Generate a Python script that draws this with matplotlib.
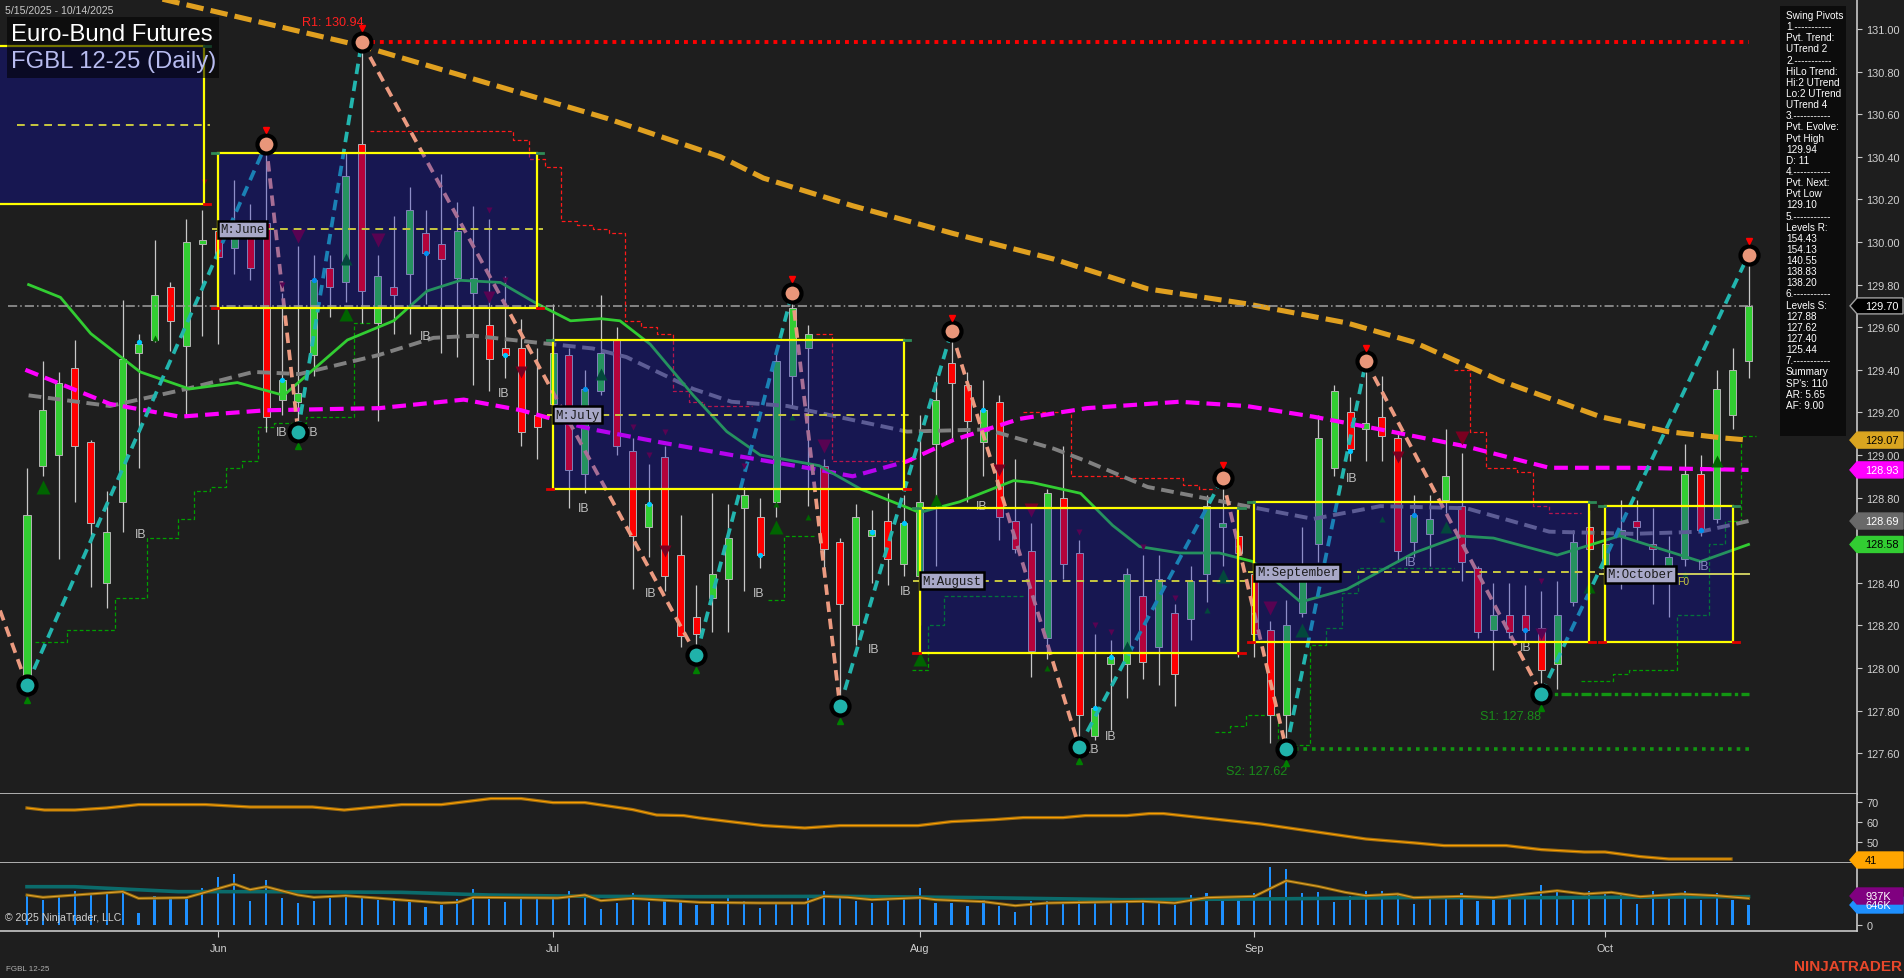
import matplotlib
matplotlib.use('Agg')
import matplotlib.pyplot as plt
import numpy as np
from matplotlib.patches import Rectangle, Polygon
from matplotlib.transforms import IdentityTransform

plt.rcParams['font.family'] = ['Liberation Sans', 'DejaVu Sans']

W, H = 1904, 979
BG = '#1e1e1e'

# ---------------- data ----------------
opens = [127.96, 128.95, 129.00, 129.41, 129.06, 128.40, 128.78, 129.48, 129.54, 129.79,
         129.51, 129.99, 130.05, 129.97, 130.09, 130.09, 129.26, 129.25, 129.47, 129.88,
         129.81, 130.46, 129.62, 129.79, 129.85, 130.04, 129.99, 129.83, 129.76, 129.61,
         129.50, 129.50, 129.19, 129.24, 129.47, 128.91, 129.30, 129.54, 129.02, 128.66,
         128.99, 128.53, 128.24, 128.33, 128.42, 128.75, 128.71, 128.78, 129.37, 129.50,
         128.95, 128.59, 128.20, 128.62, 128.69, 128.49, 128.43, 129.05, 129.43, 129.33,
         129.06, 129.25, 128.69, 128.55, 128.14, 128.80, 128.54, 127.68, 128.02, 128.02,
         128.34, 128.10, 128.26, 128.23, 128.44, 128.66, 128.62, 128.44, 128.18, 127.78,
         128.26, 128.58, 128.94, 129.20, 129.12, 129.18, 129.08, 128.59, 128.63, 128.79,
         128.76, 128.47, 128.18, 128.25, 128.25, 128.19, 128.02, 128.31, 128.66, 128.47,
         128.62, 128.69, 128.58, 128.47, 128.51, 128.91, 128.70, 129.19, 129.44]
highs = [128.94, 129.44, 129.39, 129.54, 129.07, 128.83, 129.73, 129.57, 130.01, 129.81,
         130.11, 130.15, 130.20, 130.29, 130.18, 130.46, 129.76, 129.98, 129.94, 129.94,
         130.42, 130.94, 129.94, 130.12, 130.26, 130.15, 130.32, 130.19, 130.17, 130.11,
         129.84, 129.64, 129.50, 129.71, 129.50, 129.40, 129.75, 129.60, 129.08, 128.96,
         129.04, 128.72, 128.39, 128.82, 128.77, 128.85, 128.80, 129.50, 129.76, 129.61,
         128.98, 128.61, 128.77, 128.74, 128.82, 128.81, 129.19, 129.37, 129.58, 129.39,
         129.35, 129.28, 128.98, 128.68, 128.84, 129.04, 128.60, 128.16, 128.13, 128.47,
         128.53, 128.53, 128.30, 128.48, 128.81, 128.89, 128.64, 128.46, 128.22, 128.32,
         128.66, 129.19, 129.33, 129.27, 129.44, 129.37, 129.10, 128.81, 128.81, 129.12,
         129.01, 128.48, 128.40, 128.40, 128.39, 128.36, 128.41, 128.65, 128.74, 128.60,
         128.79, 128.79, 128.75, 128.62, 129.05, 129.00, 129.40, 129.50, 129.94]
lows = [127.92, 128.90, 128.51, 128.78, 128.38, 128.28, 128.64, 128.94, 129.53, 129.49,
        129.19, 129.56, 129.52, 129.85, 129.82, 129.11, 129.19, 129.11, 129.37, 129.65,
        129.72, 129.62, 129.16, 129.57, 129.57, 129.71, 129.48, 129.46, 129.33, 129.30,
        129.36, 129.04, 128.98, 129.15, 128.75, 128.82, 129.28, 129.00, 128.37, 128.52,
        128.36, 128.10, 128.06, 128.17, 128.17, 128.36, 128.47, 128.71, 129.23, 128.76,
        128.43, 127.82, 128.11, 128.40, 128.39, 128.43, 128.20, 128.48, 129.07, 128.78,
        128.90, 128.60, 128.54, 127.96, 128.04, 128.42, 127.63, 127.66, 127.71, 127.86,
        127.95, 127.92, 127.82, 128.13, 128.31, 128.48, 128.05, 128.05, 127.65, 127.62,
        128.24, 128.50, 128.90, 128.97, 128.97, 128.97, 128.50, 128.52, 128.48, 128.73,
        128.41, 128.14, 127.99, 128.14, 128.13, 127.88, 127.90, 128.29, 128.55, 128.40,
        128.37, 128.59, 128.30, 128.24, 128.48, 128.62, 128.68, 129.12, 129.36]
closes = [128.72, 129.21, 129.34, 129.04, 128.68, 128.64, 129.45, 129.52, 129.75, 129.63,
          130.00, 130.01, 129.93, 130.05, 129.88, 129.18, 129.35, 129.29, 129.82, 129.79,
          130.31, 129.77, 129.84, 129.75, 130.15, 129.95, 129.92, 130.05, 129.83, 129.45,
          129.47, 129.11, 129.13, 129.48, 128.93, 129.31, 129.48, 129.04, 128.62, 128.77,
          128.43, 128.15, 128.16, 128.44, 128.61, 128.81, 128.53, 129.44, 129.69, 129.57,
          128.56, 128.30, 128.71, 128.65, 128.51, 128.68, 128.78, 129.26, 129.34, 129.16,
          129.21, 128.71, 128.56, 128.08, 128.82, 128.49, 127.78, 127.81, 128.05, 128.44,
          128.03, 128.42, 127.97, 128.41, 128.76, 128.68, 128.54, 128.16, 127.78, 128.20,
          128.43, 129.08, 129.30, 129.03, 129.15, 129.09, 128.55, 128.72, 128.70, 128.90,
          128.50, 128.17, 128.25, 128.17, 128.18, 127.99, 128.25, 128.59, 128.56, 128.58,
          128.65, 128.66, 128.56, 128.52, 128.91, 128.65, 129.31, 129.40, 129.70]

volume_k = [969, 808, 969, 1098, 1023, 1055, 1195, 388, 937, 915,
            840, 1195, 1550, 1647, 775, 1453, 883, 711, 775, 926,
            969, 883, 808, 775, 775, 581, 646, 840, 1163, 883,
            743, 872, 872, 894, 1098, 991, 517, 711, 1034, 743,
            775, 775, 646, 786, 894, 786, 549, 700, 700, 926,
            1098, 969, 775, 711, 775, 840, 1195, 711, 711, 624,
            808, 624, 420, 775, 775, 732, 818, 775, 775, 732,
            840, 711, 646, 969, 1034, 840, 926, 1034, 1873, 1809,
            1034, 1055, 743, 926, 1098, 1098, 969, 668, 872, 894,
            1034, 775, 808, 894, 894, 1281, 1130, 808, 1098, 1034,
            1001, 668, 1098, 969, 1098, 808, 1034, 808, 646]

month_ticks = [12, 33, 56, 77, 99]
month_labels = ['Jun', 'Jul', 'Aug', 'Sep', 'Oct']
price_ticks = [127.60, 127.80, 128.00, 128.20, 128.40, 128.60, 128.80, 129.00, 129.20,
               129.40, 129.60, 129.80, 130.00, 130.20, 130.40, 130.60, 130.80, 131.00]

# moving averages, read as (bar, value) points
orange_ma_x = [8.5, 21, 36.4, 43.5, 46.2, 51.8, 58.1, 64.4, 70.3, 76.5, 82.8, 87, 92.4, 98.7, 102.9, 106.4, 108]
orange_ma_y = [131.14, 130.92, 130.58, 130.40, 130.30, 130.17, 130.04, 129.92, 129.78, 129.71, 129.62,
               129.53, 129.35, 129.18, 129.11, 129.08, 129.07]
magenta_ma_x = [-0.1, 5.2, 9.6, 15, 22.1, 27.4, 31, 33.9, 35.5, 39.7, 44.2, 49.7, 51.8, 55.2, 58.1,
                62.3, 66.5, 72.3, 76.5, 80.7, 84.9, 90.3, 95.5, 100.8, 108]
magenta_ma_y = [129.40, 129.24, 129.18, 129.21, 129.22, 129.26, 129.21, 129.15, 129.12, 129.06, 129.00,
                128.93, 128.90, 128.97, 129.07, 129.17, 129.22, 129.25, 129.23, 129.18, 129.12, 129.04,
                128.94, 128.94, 128.93]
gray_ma_x = [0.1, 5.2, 10, 14.2, 17.1, 22.1, 25.5, 28, 31.7, 35.5, 37.6, 41.8, 44.2, 47.7, 55.2, 60.2,
             64.4, 66.5, 70.3, 74.4, 78.6, 80.7, 84.9, 90.3, 95.5, 100.8, 105, 108]
gray_ma_y = [129.28, 129.23, 129.31, 129.39, 129.38, 129.47, 129.55, 129.56, 129.53, 129.50, 129.46,
             129.31, 129.25, 129.23, 129.11, 129.12, 129.03, 128.97, 128.85, 128.79, 128.73, 128.70,
             128.76, 128.75, 128.64, 128.63, 128.64, 128.69]
green_ma_x = [0.1, 2.1, 4, 7.1, 10.2, 13.2, 16.1, 20.1, 23, 25.1, 27.2, 29.7, 32, 34.1, 36, 37.2, 39.1,
              41.8, 43.9, 46, 49.7, 52.3, 56, 58.5, 61.9, 63.1, 66.1, 68.1, 69.8, 72.3, 74.8, 76.9,
              79.9, 82.8, 87, 89.9, 92, 96, 99.9, 105, 108]
green_ma_y = [129.80, 129.74, 129.57, 129.39, 129.31, 129.34, 129.28, 129.54, 129.63, 129.77, 129.82,
              129.81, 129.71, 129.63, 129.64, 129.63, 129.52, 129.28, 129.11, 129.00, 128.95, 128.84,
              128.73, 128.78, 128.88, 128.87, 128.82, 128.67, 128.57, 128.54, 128.54, 128.50, 128.31,
              128.37, 128.54, 128.62, 128.61, 128.53, 128.62, 128.50, 128.58]

# swing pivot zigzag
zz_x = [-1.69, 0, 15, 17, 21, 42, 48, 51, 58, 66, 75, 79, 84, 95, 108]
zz_y = [128.27, 127.92, 130.46, 129.11, 130.94, 128.06, 129.76, 127.82, 129.58, 127.63,
        128.89, 127.62, 129.44, 127.88, 129.94]
pivot_high_x = [15, 21, 48, 58, 75, 84, 108]
pivot_high_y = [130.46, 130.94, 129.76, 129.58, 128.89, 129.44, 129.94]
pivot_low_x = [0, 17, 42, 51, 66, 79, 95]
pivot_low_y = [127.92, 129.11, 128.06, 127.82, 127.63, 127.62, 127.88]

# trailing stops: first bar, value per bar
green_stop_1 = (1, [128.12, 128.12, 128.18, 128.18, 128.18, 128.33, 128.33, 128.61, 128.61, 128.70,
                    128.83, 128.85, 128.94, 128.97, 129.13, 129.15, 129.15, 129.18, 129.18, 129.18, 129.62])
red_stop_1 = (22, [130.52] * 9 + [130.48, 130.39, 130.35, 130.10, 130.08, 130.06, 130.04, 129.63,
                                   129.60, 129.57, 129.30, 129.25, 129.23, 129.23, 129.23])
green_stop_2 = (47, [128.32, 128.62, 128.62])
red_stop_2 = (50, [129.57, 128.97, 128.97, 128.97, 128.97, 128.97])
green_stop_3 = (56, [127.99, 128.20, 128.34, 128.34, 128.34, 128.34, 128.34])
red_stop_3 = (63, [129.20, 129.20, 129.20, 128.90, 128.90, 128.90, 128.89, 128.89, 128.89, 128.89,
                   128.86, 128.84])
green_stop_4 = (75, [127.70, 127.73, 127.78, 127.78, 127.64, 127.64, 128.11, 128.19, 128.35,
                     128.47, 128.47, 128.47, 128.47, 128.47, 128.47])
red_stop_4 = (90, [129.40, 129.11, 128.94, 128.94, 128.92, 128.76, 128.73, 128.73])
green_stop_5 = (98, [127.94, 127.94, 127.97, 127.99, 127.99, 127.99, 128.25, 128.25, 128.58,
                     128.69, 129.09])

# monthly range boxes
box_names = ['', 'June', 'July', 'August', 'September', 'October']
box_start = [-3, 12, 33, 56, 77, 99]
box_end = [11.1, 32, 55, 76, 98, 107]
box_top = [130.92, 130.42, 129.54, 128.75, 128.78, 128.76]
box_bottom = [130.18, 129.69, 128.84, 128.07, 128.12, 128.12]
box_mid = [130.55, 130.06, 129.19, 128.41, 128.45, 128.44]

ib_x = [7.1, 16, 17.9, 25, 29.9, 34.9, 39.1, 45.9, 53.1, 55.1, 59.9, 66.9, 68.0, 83.1, 86.8, 94, 105.2]
ib_y = [128.63, 129.11, 129.11, 129.56, 129.29, 128.75, 128.35, 128.35, 128.09, 128.36, 128.76,
        127.62, 127.68, 128.89, 128.50, 128.10, 128.48]

tri_dn_x = [11.1, 16, 17, 22, 29, 29, 30, 31, 38, 39, 40, 40, 45, 50, 61, 63, 66, 67, 68, 70, 72, 78, 86, 90, 95, 95]
tri_dn_y = [130.28, 129.80, 130.03, 130.01, 130.15, 129.74, 129.82, 129.39, 129.13, 129.00, 129.11, 128.55,
            128.95, 129.04, 128.93, 128.74, 128.64, 128.20, 128.17, 128.57, 128.33, 128.28, 128.99, 129.08,
            128.41, 128.16]
tri_dn_s = [5, 5, 10, 10, 5, 8, 5, 8, 5, 5, 5, 8, 5, 10, 8, 10, 5, 5, 5, 5, 5, 10, 8, 10, 5, 8]
tri_up_x = [1, 8, 20, 20, 36, 47, 47, 48, 49, 51, 56, 57, 64, 69, 74, 75, 80, 85, 89, 98, 104, 106]
tri_up_y = [128.85, 129.55, 129.66, 129.92, 129.38, 128.66, 128.77, 129.18, 128.71, 127.75, 128.04, 128.79,
            128.00, 128.10, 128.27, 128.43, 128.18, 128.70, 128.66, 128.38, 128.44, 128.97]
tri_up_s = [10, 5, 10, 8, 8, 10, 5, 5, 5, 5, 10, 8, 5, 8, 5, 10, 10, 5, 8, 8, 5, 8]

dot_x = [7, 16, 18, 25, 30, 35, 39, 46, 53, 55, 60, 67, 68, 83, 87, 94, 105]
dot_y = [129.53, 129.35, 129.82, 129.95, 129.47, 129.31, 128.77, 128.53, 128.64, 128.68, 129.21,
         127.81, 128.05, 129.02, 128.72, 128.18, 128.65]

adx_x = [0, 1.1, 3, 5, 7, 11.2, 14, 17.9, 19.9, 23.5, 26, 29.1, 31, 33, 35, 38, 39.5, 41.2, 42.2,
         46.2, 48.8, 51, 55.9, 58, 60.7, 62.5, 65, 66.4, 69, 70.4, 71.3, 77.4, 84, 87.1, 88.9, 92.8,
         95, 97.7, 99, 101.2, 103, 106.9]
adx_y = [67.0, 66.0, 66.0, 67.0, 68.7, 68.7, 67.5, 67.5, 66.0, 68.7, 68.7, 71.7, 71.7, 69.7, 69.7,
         66.2, 63.5, 63.2, 62.0, 58.2, 57.0, 58.2, 58.2, 60.2, 61.2, 62.2, 62.2, 63.2, 63.2, 64.2,
         64.2, 59.0, 51.5, 49.5, 48.2, 48.2, 46.2, 45.0, 45.0, 42.7, 41.5, 41.5]

vol_avg_x = [0, 3, 6, 9.5, 15, 23.5, 29, 35, 42.2, 51, 59.9, 68.7, 77.4, 86.2, 95, 108]
vol_avg_y = [1237, 1237, 1163, 1077, 1077, 1055, 969, 926, 915, 926, 883, 818, 840, 883, 883, 915]
vol_fast_x = [0, 1, 6, 7, 10, 13, 14, 15, 17, 18, 20, 26, 27, 28, 33.3, 35, 36, 38, 42.2, 46, 48.8,
              50, 51.5, 53, 56, 57, 60, 62, 64, 70, 72, 74, 77, 79, 81, 82.7, 84, 86, 87, 90, 92, 95,
              96, 97.7, 99.4, 101.2, 103.8, 106, 108]
vol_fast_y = [969, 894, 1077, 861, 883, 1324, 1141, 1237, 969, 894, 947, 711, 732, 894, 872, 969, 786,
              861, 732, 711, 711, 926, 894, 818, 883, 818, 754, 624, 711, 765, 711, 883, 926, 1431,
              1248, 1055, 947, 1001, 883, 926, 883, 1055, 1109, 1001, 1055, 915, 1001, 947, 861]

info_lines = ['Swing Pivots', '1.-----------', 'Pvt. Trend:', 'UTrend 2', '2.-----------',
              'HiLo Trend:', 'Hi:2 UTrend', 'Lo:2 UTrend', 'UTrend 4', '3.-----------',
              'Pvt. Evolve:', 'Pvt High', '129.94', 'D: 11', '4.-----------', 'Pvt. Next:',
              'Pvt Low', '129.10', '5.-----------', 'Levels R:', '154.43', '154.13', '140.55',
              '138.83', '138.20', '6.-----------', 'Levels S:', '127.88', '127.62', '127.40',
              '125.44', '7.-----------', 'Summary', "SP's: 110", 'AR: 5.65', 'AF: 9.00']

# ---------------- figure ----------------
fig = plt.figure(figsize=(W / 100, H / 100), dpi=100, facecolor=BG)
ax = fig.add_axes([0, (H - 795) / H, 1857 / W, 795 / H])
ax2 = fig.add_axes([0, (H - 864) / H, 1857 / W, 69 / H])
ax3 = fig.add_axes([0, (H - 932) / H, 1857 / W, 68 / H])

x0 = -27 / 15.94
x1 = x0 + 1857 / 15.94
for a in (ax, ax2, ax3):
    a.set_facecolor(BG)
    a.set_xlim(x0, x1)
    for s in ('top', 'left'):
        a.spines[s].set_visible(False)
    for s in ('right', 'bottom'):
        a.spines[s].set_color('#c8c8c8')
        a.spines[s].set_linewidth(1.2)
    a.tick_params(axis='y', left=False, labelleft=False, right=True, labelright=True,
                  length=3.6, width=0.8, color='#c8c8c8', labelcolor='#d0d0d0', labelsize=7.9, pad=3)
    a.tick_params(axis='x', bottom=False, labelbottom=False)

ax.set_ylim(127.4085, 131.1408)
ax.set_yticks(price_ticks)
ax.set_yticklabels([f'{v:.2f}' for v in price_ticks])
ax2.set_ylim(39.5, 74)
ax2.set_yticks([50, 60, 70])
ax3.set_ylim(-194, 2003)
ax3.set_yticks([0])
ax3.set_xticks(month_ticks)
ax3.set_xticklabels(month_labels)
ax3.tick_params(axis='x', bottom=True, labelbottom=True, length=4, width=0.8, color='#c8c8c8',
                labelcolor='#d0d0d0', labelsize=7.8, pad=5)

bars = np.arange(len(closes))
o = np.array(opens); c = np.array(closes)

# trailing stop steps
def draw_stop(stop, color):
    start, vals = stop
    xs, ys = [], []
    for k, v in enumerate(vals):
        xs += [start + k - 0.5, start + k + 0.5]
        ys += [v, v]
    ax.plot(xs, ys, color=color, lw=0.9, ls=(0, (3, 2)), zorder=1.5)

for st in (green_stop_1, green_stop_2, green_stop_3, green_stop_4, green_stop_5):
    draw_stop(st, '#00a000')
for st in (red_stop_1, red_stop_2, red_stop_3, red_stop_4):
    draw_stop(st, '#ff1a1a')

# candles
ax.vlines(bars, lows, highs, color='#c8c8c8', lw=0.9, zorder=2)
body_col = ['#32cd32' if cc >= oo else '#ff0000' for oo, cc in zip(o, c)]
ax.bar(bars, np.maximum(np.abs(c - o), 0.012), bottom=np.minimum(o, c), width=0.44,
       color=body_col, edgecolor='#b4b4b4', linewidth=0.7, zorder=2.1)

# moving averages
ax.plot(gray_ma_x, gray_ma_y, color='#808080', lw=2.8, ls=(0, (3.3, 1.7)), zorder=3)
ax.plot(magenta_ma_x, magenta_ma_y, color='#ff00ff', lw=3.0, ls=(0, (3.3, 1.7)), zorder=3)
ax.plot(green_ma_x, green_ma_y, color='#32cd32', lw=2.0, zorder=3)
ax.plot(orange_ma_x, orange_ma_y, color='#e0a020', lw=3.7, ls=(0, (3.4, 1.4)), zorder=3)

# zigzag
for k in range(len(zz_x) - 1):
    up = zz_y[k + 1] > zz_y[k]
    ax.plot(zz_x[k:k + 2], zz_y[k:k + 2], color='#22b5ae' if up else '#eb9a80',
            lw=2.7, ls=(0, (2.8, 1.8)), zorder=4)

# small markers
for xx, yy, ss in zip(tri_dn_x, tri_dn_y, tri_dn_s):
    ax.plot(xx, yy, marker='v', ms=ss, color='#7a0020', mec='none', zorder=5)
for xx, yy, ss in zip(tri_up_x, tri_up_y, tri_up_s):
    ax.plot(xx, yy, marker='^', ms=ss, color='#006400', mec='none', zorder=5)
ax.plot(dot_x, dot_y, 'o', ms=3.8, color='#00c8ff', mec='none', zorder=5)
for xx, yy in zip(ib_x, ib_y):
    ax.text(xx, yy, 'IB', color='#c0c0c0', fontsize=8.8, ha='center', va='center', zorder=5)

# monthly boxes
for k in range(len(box_start)):
    s, e, t, b, m = box_start[k], box_end[k], box_top[k], box_bottom[k], box_mid[k]
    ax.add_patch(Rectangle((s, b), e - s, t - b, fc='#0a0ac8', alpha=0.3, ec='none', zorder=6))
    ax.add_patch(Rectangle((s, b), e - s, t - b, fill=False, ec='#ffff00', lw=1.6, zorder=8))
    ax.plot([s - 0.4, s], [t, t], color='#2e8b57', lw=2, zorder=8)
    ax.plot([e, e + 0.4], [t, t], color='#2e8b57', lw=2, zorder=8)
    ax.plot([s - 0.4, s], [b, b], color='#e00000', lw=2, zorder=8)
    ax.plot([e, e + 0.4], [b, b], color='#e00000', lw=2, zorder=8)
    if k == len(box_start) - 1:
        ax.plot([s - 0.3, 108], [m, m], color='#cccc60', lw=1.4, zorder=7)
    else:
        ax.plot([max(s, -0.25) - 0.4, e + 0.4], [m, m], color='#c8c840', lw=1.4,
                ls=(0, (4, 3)), zorder=7)
    if box_names[k]:
        ax.text(s + 0.15, m, 'M:' + box_names[k], family='Liberation Mono', fontsize=8.9,
                color='#1a1a1a', ha='left', va='center', zorder=9,
                bbox=dict(boxstyle='square,pad=0.2', fc='#a8a8c8', ec='black', lw=1.8))
ax.text(103.5, 128.41, 'F0', color='#c8c840', fontsize=7.5, ha='left', va='center', zorder=9)

# current price line, R/S levels
ax.plot([-1.2, 108.4], [129.70, 129.70], color='#a0a0a0', lw=1.1, ls=(0, (6, 2, 1, 2)), zorder=7)
ax.plot([21, 108], [130.94, 130.94], color='#ff0000', lw=2.8, ls=(0, (1, 1.3)), zorder=7)
ax.plot([79, 108], [127.62, 127.62], color='#129612', lw=2.6, ls=(0, (1, 1.4)), zorder=7)
ax.plot([95, 108], [127.88, 127.88], color='#129612', lw=2.4, ls=(0, (3, 1, 1, 1)), zorder=7)
ax.text(21.1, 131.035, 'R1: 130.94', color='#ff2020', fontsize=9.1, ha='right', va='center', zorder=10)
ax.text(79.05, 127.516, 'S2: 127.62', color='#1a8a1a', fontsize=9.1, ha='right', va='center', zorder=10)
ax.text(95.0, 127.775, 'S1: 127.88', color='#1a8a1a', fontsize=9.1, ha='right', va='center', zorder=10)

# pivot circles
ax.plot(pivot_high_x, pivot_high_y, 'o', ms=13, mfc='#e9967a', mec='black', mew=3.0, zorder=10)
ax.plot(pivot_low_x, pivot_low_y, 'o', ms=13, mfc='#20b2aa', mec='black', mew=3.0, zorder=10)
ax.plot(pivot_high_x, np.array(pivot_high_y) + 0.064, 'v', ms=5, color='#ff0000', zorder=10)
ax.plot(pivot_low_x, np.array(pivot_low_y) - 0.068, '^', ms=5, color='#008000', zorder=10)

# lower panels
ax2.plot(adx_x, adx_y, color='#9a6a10', lw=2.4, zorder=3)
ax2.plot(adx_x, adx_y, color='#ffa000', lw=0.8, zorder=4)
ax3.bar(bars, volume_k, width=0.14, color='#1e90ff', zorder=2)
ax3.plot(vol_avg_x, vol_avg_y, color='#0b6b6b', lw=2.6, zorder=3)
ax3.plot(vol_fast_x, vol_fast_y, color='#8b6508', lw=2.2, zorder=4)
ax3.plot(vol_fast_x, vol_fast_y, color='#e0a030', lw=0.8, zorder=5)

# ---------------- overlays in pixel space ----------------
def px(x, y):
    return x / W, 1 - y / H

def price_tag(axis, val, text, fc, tc, ec=None):
    y = axis.transData.transform((0, val))[1]
    poly = [(1850, y), (1857, y + 8), (1903, y + 8), (1903, y - 8), (1857, y - 8)]
    fig.add_artist(Polygon(poly, closed=True, transform=IdentityTransform(), fc=fc,
                           ec=ec or fc, lw=1, zorder=20))
    fig.text(1865 / W, y / H, text, color=tc, fontsize=7.9, ha='left', va='center', zorder=21)

price_tag(ax, 129.70, '129.70', 'black', 'white', '#a0a0a0')
price_tag(ax, 129.07, '129.07', '#daa520', 'black')
price_tag(ax, 128.93, '128.93', '#ff00ff', 'white')
price_tag(ax, 128.69, '128.69', '#696969', 'white')
price_tag(ax, 128.58, '128.58', '#32cd32', 'black')
price_tag(ax2, 41, '41', '#ffa500', 'black')
price_tag(ax3, 646, '646K', '#1e90ff', 'white')
price_tag(ax3, 937, '937K', '#800080', 'white')

# info panel
fig.add_artist(Rectangle((1780, H - 437), 66, 430, transform=IdentityTransform(),
                         fc='#0c0c0c', ec='none', zorder=15))
for k, line in enumerate(info_lines):
    fig.text(*px(1786, 16 + 11.14 * k), line, color='white', fontsize=7.2,
             ha='left', va='center', zorder=16)

# title
fig.add_artist(Rectangle((7, H - 79), 212, 61, transform=IdentityTransform(),
                         fc='black', alpha=0.55, ec='none', zorder=15))
fig.text(*px(11, 35), 'Euro-Bund Futures', color='white', fontsize=17.2, ha='left', va='center', zorder=16)
fig.text(*px(11, 62), 'FGBL 12-25 (Daily)', color='#b8bcf0', fontsize=17.2, ha='left', va='center', zorder=16)
fig.text(*px(5, 11.5), '5/15/2025 - 10/14/2025', color='#c8c8c8', fontsize=7.6, ha='left', va='center')

fig.text(*px(5, 918), '\u00a9 2025 NinjaTrader, LLC', color='#d0d0d0', fontsize=7.6, ha='left', va='center', zorder=16)
fig.text(*px(6, 970), 'FGBL 12-25', color='#b0b0b0', fontsize=5.8, ha='left', va='center')
fig.text(*px(1902, 967), 'NINJATRADER', color='#e8472a', fontsize=11, fontweight='bold',
         ha='right', va='center')

fig.savefig('out.png', dpi=100, facecolor=BG)
